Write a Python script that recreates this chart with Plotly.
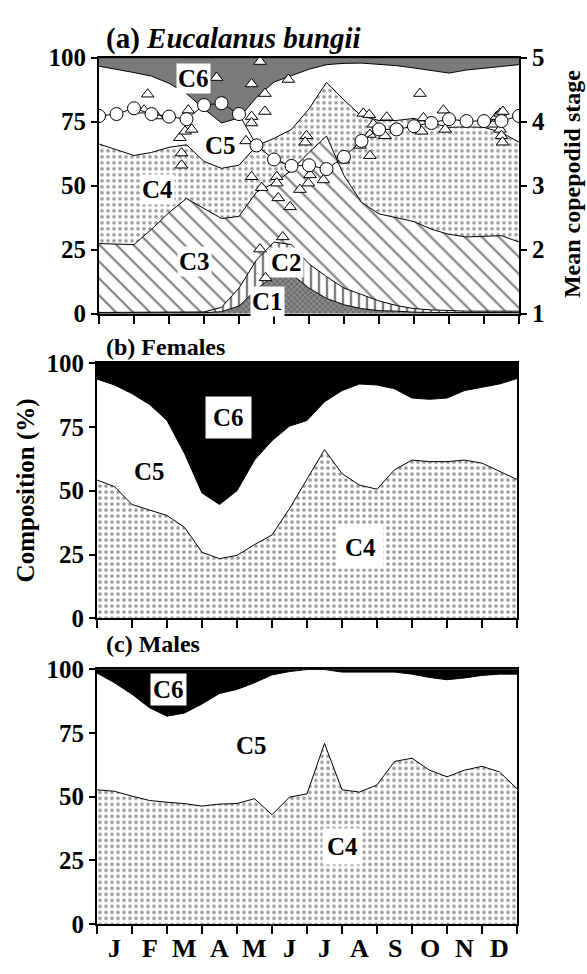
import plotly.graph_objects as go

# ---------------- data ----------------
half_months = [i * 0.5 for i in range(25)]          # 0 = 1 Jan ... 12 = 31 Dec
months = ["J", "F", "M", "A", "M", "J", "J", "A", "S", "O", "N", "D"]
month_ticks = list(range(13))
pct_ticks = [0, 25, 50, 75, 100]
stage_ticks = [1, 2, 3, 4, 5]

# (a) Eucalanus bungii: cumulative composition boundaries (%)
a_c1_top = [0.3, 0.3, 0.3, 0.3, 0.3, 0.3, 0.4, 0.8, 3, 9.5, 15, 15.5, 10, 6, 3.5, 2, 1.2, 1, 0.6, 0.5, 0.5, 0.5, 0.5, 0.5, 0.5]
a_c2_top = [0.5, 0.5, 0.5, 0.5, 0.5, 0.5, 0.7, 2.5, 10, 21, 28, 27, 19.5, 14.5, 10, 7.5, 5, 3.2, 2, 1.5, 1.2, 1, 1, 1, 1]
a_c3_top = [27.4, 27.2, 27, 33, 39.5, 45, 41, 37.2, 38, 47.5, 51, 56, 63, 69.4, 54, 43.5, 39, 37.5, 36, 33, 31, 30, 30.3, 30.5, 28]
a_c4_top = [66.3, 64, 61.8, 63, 65, 66, 59.5, 56.8, 58, 65.6, 68.5, 72, 80, 90.4, 83.5, 77.2, 75.5, 75.5, 76.3, 74.5, 72.8, 73, 72.8, 70.8, 67]
a_c5_top = [96.7, 95.5, 94.2, 92.8, 90, 86, 80, 74.5, 76.5, 84.5, 90.5, 93, 95.5, 97.3, 97.8, 97.9, 97.5, 96.9, 96, 95, 94, 95.2, 95.8, 96.6, 97.3]

# mean copepodid stage (circles, semi-monthly)
mean_stage = [4.09, 4.12, 4.21, 4.12, 4.08, 4.04, 4.26, 4.29, 4.12, 3.63, 3.41, 3.31, 3.32,
              3.26, 3.45, 3.70, 3.88, 3.88, 3.93, 3.98, 4.04, 4.01, 4.01, 4.01, 4.09]

# individual samples (triangles)
tri_month = [1.39, 1.29, 1.65, 2.31, 2.46, 2.65, 2.36, 2.36, 2.55, 3.36, 4.2, 4.36, 4.6, 4.74, 4.74,
             4.36, 4.36, 5.41, 4.36, 4.65, 5.08, 5.08, 5.12, 5.46, 4.6, 4.76, 5.25, 5.74, 5.98, 6.41,
             6.03, 5.93, 5.89, 6.98, 7.46, 7.74, 7.55, 7.72, 7.84, 7.74, 8.17, 8.22, 9.17, 9.27, 9.22,
             9.84, 9.89, 11.27, 11.36, 11.46, 11.54, 11.46, 11.5, 11.53]
tri_stage = [4.43, 4.18, 4.09, 3.75, 3.85, 3.88, 3.51, 3.32, 4.18, 4.69, 3.70, 4.59, 4.94, 4.44, 4.16,
             4.08, 3.98, 4.66, 3.14, 2.97, 3.14, 3.04, 2.81, 2.67, 2.01, 1.56, 2.20, 2.94, 3.04, 3.09,
             3.17, 3.78, 3.68, 3.40, 3.63, 3.47, 4.13, 4.11, 3.96, 3.80, 3.78, 4.07, 4.44, 4.06, 3.85,
             4.18, 3.88, 3.96, 4.08, 4.13, 4.16, 3.88, 3.78, 3.68]

# (b) Females: cumulative boundaries (%)
b_c4_top = [54.2, 51.6, 44.6, 42.4, 40.3, 35.7, 25.9, 23.4, 24.7, 28.9, 32.7, 43.0, 54.6, 66.1, 56.7,
            52.2, 50.6, 58.2, 62.0, 61.4, 61.4, 62.0, 60.8, 57.6, 54.4]
b_c5_top = [93.7, 91.4, 88.0, 83.8, 77.5, 64.6, 49.1, 44.6, 50.0, 62.0, 69.6, 75.3, 77.5, 84.8, 89.2,
            91.8, 91.4, 89.9, 86.3, 85.8, 86.3, 89.2, 90.5, 91.8, 93.9]

# (c) Males: cumulative boundaries (%)
c_c4_top = [52.7, 52.1, 50.2, 48.5, 47.8, 47.3, 46.3, 47.1, 47.3, 49.2, 42.9, 49.8, 51.1, 70.9, 52.7,
            51.8, 54.6, 63.8, 65.1, 60.4, 57.8, 60.4, 61.9, 59.7, 53.1]
c_c5_top = [98.5, 94.7, 90.2, 84.9, 81.6, 82.8, 86.4, 90.5, 92.1, 94.7, 97.8, 99.1, 99.9, 99.9, 98.9,
            98.9, 98.9, 98.9, 98.1, 96.8, 95.9, 96.6, 97.6, 98.1, 98.1]
full = [100] * len(half_months)

# ---------------- styles ----------------
W, H = 587, 974
FONT = "Liberation Serif"
LINE = dict(color="black", width=1)

dots = dict(shape=".", fgcolor="#3a3a3a", bgcolor="white", size=6, solidity=0.3)
diag = dict(shape="\\", fgcolor="black", bgcolor="white", size=12, solidity=0.18)
vert = dict(shape="|", fgcolor="black", bgcolor="white", size=8, solidity=0.3)
dark = dict(shape="x", fgcolor="#333333", bgcolor="#8a8a8a", size=4, solidity=0.4)


def px_x(v):
    return v / W


def px_y(v):
    return 1 - v / H


fig = go.Figure()


def area(y, fill, xa, ya, pattern=None, fillcolor=None):
    kw = dict(x=half_months, y=y, mode="lines", line=LINE, fill=fill,
              xaxis=xa, yaxis=ya, showlegend=False, hoverinfo="skip")
    if pattern is not None:
        kw["fillpattern"] = pattern
        kw["fillcolor"] = pattern["bgcolor"]
    if fillcolor is not None:
        kw["fillcolor"] = fillcolor
    fig.add_trace(go.Scatter(**kw))


# panel (a)
area(a_c1_top, "tozeroy", "x", "y", pattern=dark)
area(a_c2_top, "tonexty", "x", "y", pattern=vert)
area(a_c3_top, "tonexty", "x", "y", pattern=diag)
area(a_c4_top, "tonexty", "x", "y", pattern=dots)
area(a_c5_top, "tonexty", "x", "y", fillcolor="white")
area(full, "tonexty", "x", "y", fillcolor="#7a7a7a")

fig.add_trace(go.Scatter(x=tri_month, y=tri_stage, mode="markers", xaxis="x", yaxis="y2",
                         marker=dict(symbol="triangle-up", size=11, color="white",
                                     line=dict(color="black", width=1)),
                         showlegend=False, hoverinfo="skip"))
fig.add_trace(go.Scatter(x=half_months, y=mean_stage, mode="lines+markers", xaxis="x", yaxis="y2",
                         line=dict(color="black", width=1),
                         marker=dict(symbol="circle", size=13, color="white",
                                     line=dict(color="black", width=1)),
                         showlegend=False, hoverinfo="skip"))

# panel (b)
area(b_c4_top, "tozeroy", "x2", "y3", pattern=dots)
area(b_c5_top, "tonexty", "x2", "y3", fillcolor="white")
area(full, "tonexty", "x2", "y3", fillcolor="black")

# panel (c)
area(c_c4_top, "tozeroy", "x3", "y4", pattern=dots)
area(c_c5_top, "tonexty", "x3", "y4", fillcolor="white")
area(full, "tonexty", "x3", "y4", fillcolor="black")

# ---------------- axes ----------------
dom_a = [px_x(99), px_x(519)]
dom_bc = [px_x(97), px_x(517)]
ydom_a = [px_y(309.3), px_y(46)]
ydom_b = [px_y(622.7), px_y(360)]
ydom_c = [px_y(937), px_y(675)]

xcommon = dict(range=[0, 12], tickmode="array", tickvals=month_ticks, showticklabels=False,
               ticks="outside", ticklen=8, tickwidth=2, tickcolor="black",
               showline=True, linecolor="black", linewidth=2, mirror=True,
               showgrid=False, zeroline=False, fixedrange=True)
ycommon = dict(range=[0, 100], tickmode="array", tickvals=pct_ticks,
               ticks="outside", ticklen=6, tickwidth=2, tickcolor="black",
               showline=True, linecolor="black", linewidth=2, mirror=True,
               showgrid=False, zeroline=False,
               tickfont=dict(family=FONT, size=25, color="black", weight="bold"))

fig.update_layout(
    width=W, height=H,
    margin=dict(l=0, r=0, t=0, b=0),
    paper_bgcolor="white", plot_bgcolor="white",
    font=dict(family=FONT, size=24, color="black", weight="bold"),
    xaxis=dict(domain=dom_a, anchor="y", **xcommon),
    yaxis=dict(domain=ydom_a, anchor="x", **ycommon),
    yaxis2=dict(range=[1, 5], tickmode="array", tickvals=stage_ticks, overlaying="y", side="right",
                anchor="x", ticks="outside", ticklen=6, tickwidth=2, tickcolor="black",
                showline=True, linecolor="black", linewidth=2, showgrid=False, zeroline=False,
                tickfont=dict(family=FONT, size=25, color="black", weight="bold")),
    xaxis2=dict(domain=dom_bc, anchor="y3", **xcommon),
    yaxis3=dict(domain=ydom_b, anchor="x2", **ycommon),
    xaxis3=dict(domain=dom_bc, anchor="y4", **xcommon),
    yaxis4=dict(domain=ydom_c, anchor="x3", **ycommon),
)

ann = []


def label(text, x, y, xref, yref, box=False, pad=2, size=25):
    d = dict(text=text, x=x, y=y, xref=xref, yref=yref, showarrow=False,
             font=dict(family=FONT, size=size, color="black", weight="bold"),
             xanchor="center", yanchor="middle")
    if box:
        d["bgcolor"] = "white"
        d["borderpad"] = pad
    ann.append(d)


# panel (a) stage labels
label("C6", 2.69, 91.7, "x", "y", box=True, pad=1)
label("C5", 3.46, 65.6, "x", "y")
label("C4", 1.66, 48.4, "x", "y", box=True, pad=1)
label("C3", 2.74, 20.3, "x", "y", box=True, pad=1)
label("C2", 5.37, 19.9, "x", "y", box=True, pad=1)
label("C1", 4.80, 4.7, "x", "y", box=True, pad=1)
# panel (b)
label("C6", 3.76, 78.5, "x2", "y3", box=True, pad=7)
label("C5", 1.5, 57.6, "x2", "y3")
label("C4", 7.53, 27.8, "x2", "y3", box=True, pad=7)
# panel (c)
label("C6", 2.04, 92.1, "x3", "y4", box=True, pad=2)
label("C5", 4.41, 69.9, "x3", "y4")
label("C4", 7.0, 30.5, "x3", "y4", box=True, pad=4)

# month letters
for i, m in enumerate(months):
    ann.append(dict(text=m, x=i + 0.5, y=px_y(962), xref="x3", yref="paper", showarrow=False,
                    xanchor="center", yanchor="middle",
                    font=dict(family=FONT, size=26, color="black", weight="bold")))

# panel titles
ann.append(dict(text="(a) <i>Eucalanus bungii</i>", x=px_x(104), y=px_y(26), xref="paper", yref="paper",
                showarrow=False, xanchor="left", yanchor="middle",
                font=dict(family=FONT, size=29, color="black", weight="bold")))
ann.append(dict(text="(b) Females", x=px_x(104), y=px_y(344), xref="paper", yref="paper",
                showarrow=False, xanchor="left", yanchor="middle",
                font=dict(family=FONT, size=24, color="black", weight="bold")))
ann.append(dict(text="(c) Males", x=px_x(104), y=px_y(649), xref="paper", yref="paper",
                showarrow=False, xanchor="left", yanchor="middle",
                font=dict(family=FONT, size=24, color="black", weight="bold")))
# axis titles
ann.append(dict(text="Composition (%)", x=px_x(26), y=px_y(491), xref="paper", yref="paper",
                showarrow=False, textangle=-90, xanchor="center", yanchor="middle",
                font=dict(family=FONT, size=25, color="black", weight="bold")))
ann.append(dict(text="Mean copepodid stage", x=px_x(572), y=px_y(176), xref="paper", yref="paper",
                showarrow=False, textangle=-90, xanchor="center", yanchor="middle",
                font=dict(family=FONT, size=24, color="black", weight="bold")))

fig.update_layout(annotations=ann)

fig.write_html("out.html")
